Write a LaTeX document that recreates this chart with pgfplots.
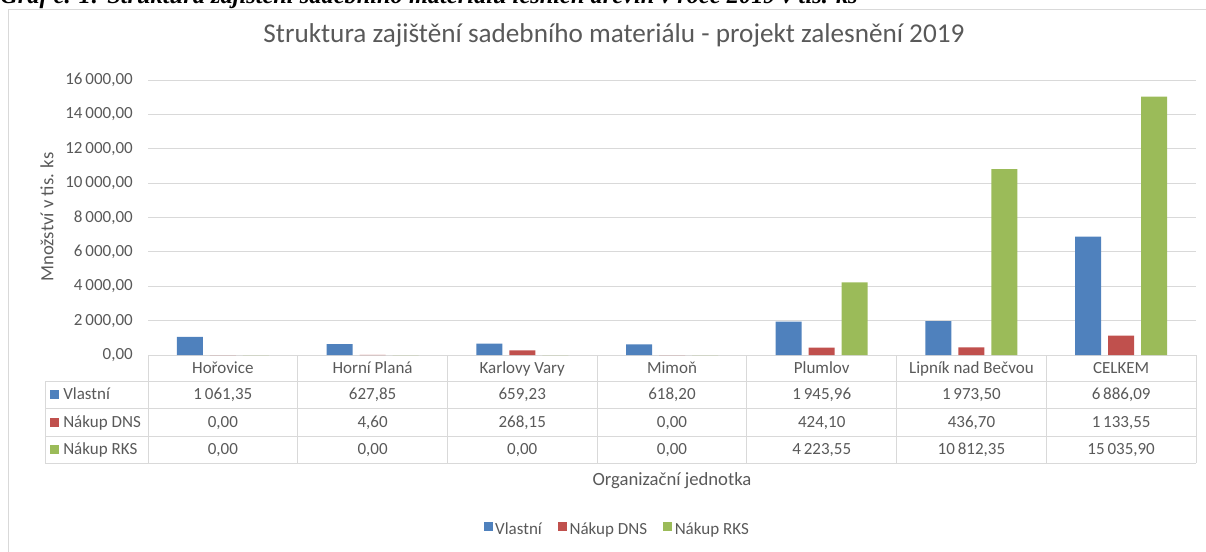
\documentclass[border=0pt]{standalone}
\usepackage{fontspec}
\setmainfont{Carlito}
\newfontfamily\capfont{Liberation Serif}
\usepackage{pgfplots}
\usepackage{pgfplotstable}
\pgfplotsset{compat=1.18}
\definecolor{cblue}{HTML}{4F81BD}
\definecolor{cred}{HTML}{C0504D}
\definecolor{cgreen}{HTML}{9BBB59}
\definecolor{tgray}{HTML}{595959}
\definecolor{lgray}{HTML}{D9D9D9}

\pgfplotstableread{
x v dns rks
0 1061.35 0 0
1 627.85 4.60 0
2 659.23 268.15 0
3 618.20 0 0
4 1945.96 424.10 4223.55
5 1973.50 436.70 10812.35
6 6886.09 1133.55 15035.90
}\data

\pgfkeys{/pgf/number format/.cd, fixed, fixed zerofill, precision=2, use comma, 1000 sep={\,}, assume math mode=true}
\newcommand\tfont{\fontsize{12.75pt}{15pt}\selectfont}
\pgfplotsset{sq legend/.style={legend image code/.code={\fill[##1] (0pt,-0.5pt) rectangle (6.75pt,6.25pt);}}}

\begin{document}
\begin{tikzpicture}[x=0.75pt,y=0.75pt]
\useasboundingbox (0,0) rectangle (1206,551);
\clip (0,0) rectangle (1206,551);
% cut-off caption
\node[anchor=base west, inner sep=0pt, font=\capfont\bfseries\itshape\fontsize{18.3pt}{21pt}\selectfont] at (0,547.5) {Graf č. 1: Struktura zajištění sadebního materiálu lesních dřevin v roce 2019 v tis. ks};
% chart area border
\draw[lgray, line width=0.75pt] (8,-20) rectangle (1240,541);
% title
\node[anchor=base, text=tgray, inner sep=0pt, font=\fontsize{20.4pt}{24pt}\selectfont] at (614,508) {Struktura zajištění sadebního materiálu - projekt zalesnění 2019};

\begin{axis}[at={(111pt,147pt)}, anchor=south west, scale only axis,
  width=786pt, height=206.25pt,
  xmin=-0.5, xmax=6.5, ymin=0, ymax=16000,
  ytick={0,2000,...,16000}, xtick=\empty,
  axis line style={draw=none}, major tick length=0pt,
  ymajorgrids, grid style={lgray, line width=0.75pt},
  scaled y ticks=false,
  yticklabel style={anchor=east, inner sep=0pt, xshift=-11.25pt, text=tgray, font=\tfont,
    /pgf/number format/.cd, fixed, fixed zerofill, precision=2, use comma, 1000 sep={\,}, assume math mode=true},
  ybar=5.25pt, bar width=19.5pt,
  legend columns=3,
  legend style={at={(0.448,-0.636)}, anchor=center, draw=none, fill=none, font=\tfont, text=tgray,
    /tikz/every even column/.append style={column sep=10pt}},
  clip=false]
\addplot[fill=cblue, draw=none, sq legend] table[x=x, y=v] {\data};
\addplot[fill=cred, draw=none, sq legend] table[x=x, y=dns] {\data};
\addplot[fill=cgreen, draw=none, sq legend] table[x=x, y=rks] {\data};
\legend{Vlastní, Nákup DNS, Nákup RKS}
\end{axis}

% y label
\node[rotate=90, text=tgray, font=\fontsize{14pt}{17pt}\selectfont] at (47,334) {Množství v tis. ks};

% data table
\begin{scope}[lgray, line width=0.75pt]
\foreach \y in {170,143,115,88} \draw (45,\y) -- (1196,\y);
\draw (45,170) -- (45,88);
\foreach \k in {0,...,7} \draw ({148+\k*149.714},196) -- ({148+\k*149.714},88);
\end{scope}
\foreach \k/\n in {0/Hořovice,1/Horní Planá,2/Karlovy Vary,3/Mimoň,4/Plumlov,5/Lipník nad Bečvou,6/CELKEM}
  \node[anchor=base, text=tgray, font=\tfont] at ({148+(\k+0.5)*149.714},177.6) {\n};
\foreach \col/\yc in {v/156.5,dns/129,rks/101.5}{
  \foreach \k in {0,...,6}{
    \pgfplotstablegetelem{\k}{\col}\of\data
    \node[anchor=base, text=tgray, font=\tfont] at ({148+(\k+0.5)*149.714},\yc-5.4) {\pgfmathprintnumber{\pgfplotsretval}};
  }
}
\fill[cblue] (50,152) rectangle (59,161);
\fill[cred] (50,124.5) rectangle (59,133.5);
\fill[cgreen] (50,97) rectangle (59,106);
\node[anchor=base west, inner sep=0pt, text=tgray, font=\tfont] at (63,151.1) {Vlastní};
\node[anchor=base west, inner sep=0pt, text=tgray, font=\tfont] at (63,123.6) {Nákup DNS};
\node[anchor=base west, inner sep=0pt, text=tgray, font=\tfont] at (63,96.1) {Nákup RKS};

% x axis title
\node[anchor=base, text=tgray, font=\fontsize{14pt}{17pt}\selectfont] at (672,66) {Organizační jednotka};
\end{tikzpicture}
\end{document}
